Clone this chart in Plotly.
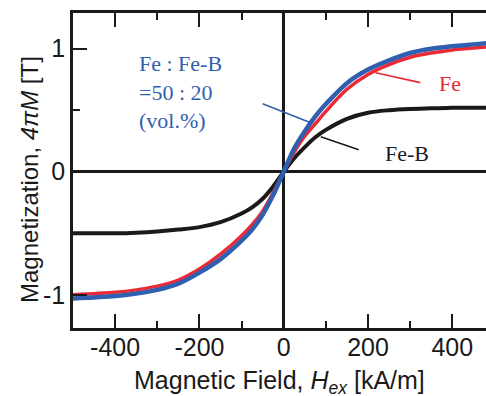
import plotly.graph_objects as go

# Magnetic field H_ex [kA/m]
field = [-500, -400, -350, -300, -250, -200, -150, -100, -75, -50, -25, 0,
         25, 50, 75, 100, 150, 200, 250, 300, 350, 400, 450, 500]

# Magnetization 4*pi*M [T]
mag_fe = [-1.00, -0.98, -0.96, -0.93, -0.88, -0.79, -0.67, -0.52, -0.43, -0.32, -0.17, 0.0,
          0.16, 0.29, 0.39, 0.49, 0.67, 0.79, 0.87, 0.93, 0.965, 0.99, 1.005, 1.02]
mag_mix = [-1.03, -1.01, -0.99, -0.96, -0.91, -0.82, -0.71, -0.56, -0.47, -0.35, -0.19, 0.0,
           0.19, 0.33, 0.45, 0.55, 0.72, 0.83, 0.905, 0.965, 1.0, 1.02, 1.035, 1.05]
mag_feb = [-0.50, -0.50, -0.495, -0.485, -0.47, -0.45, -0.41, -0.34, -0.29, -0.22, -0.12, 0.0,
           0.11, 0.20, 0.28, 0.34, 0.43, 0.48, 0.50, 0.51, 0.515, 0.52, 0.52, 0.52]

x_ticks = [-400, -200, 0, 200, 400]
y_ticks = [-1, 0, 1]

BLUE = "#2f5fae"
RED = "#ec2a36"
BLACK = "#1a1a1a"

fig = go.Figure()
fig.add_trace(go.Scatter(x=field, y=mag_feb, mode="lines",
                         line=dict(color=BLACK, width=4, shape="spline", smoothing=0.9),
                         showlegend=False, hoverinfo="skip"))
fig.add_trace(go.Scatter(x=field, y=mag_fe, mode="lines",
                         line=dict(color=RED, width=3.5, shape="spline", smoothing=0.9),
                         showlegend=False, hoverinfo="skip"))
fig.add_trace(go.Scatter(x=field, y=mag_mix, mode="lines",
                         line=dict(color=BLUE, width=4.5, shape="spline", smoothing=0.9),
                         showlegend=False, hoverinfo="skip"))

# leader lines for labels
fig.add_shape(type="line", x0=218, y0=0.805, x1=324, y1=0.724, xref="x", yref="y",
              line=dict(color=RED, width=1.6))
fig.add_shape(type="line", x0=88, y0=0.285, x1=178, y1=0.179, xref="x", yref="y",
              line=dict(color=BLACK, width=1.6))
fig.add_shape(type="line", x0=-50, y0=0.553, x1=64, y1=0.398, xref="x", yref="y",
              line=dict(color=BLUE, width=1.6))

serif = "Liberation Serif, Times New Roman, serif"
fig.add_annotation(x=395, y=0.715, text="Fe", showarrow=False, xref="x", yref="y",
                   font=dict(family=serif, size=22, color=RED))
fig.add_annotation(x=293, y=0.146, text="Fe-B", showarrow=False, xref="x", yref="y",
                   font=dict(family=serif, size=22, color=BLACK))
fig.add_annotation(x=-347, y=1.0, text="Fe : Fe-B<br>=50 : 20<br>(vol.%)", showarrow=False,
                   xref="x", yref="y", xanchor="left", yanchor="top", align="left",
                   font=dict(family=serif, size=22, color=BLUE))

sans = "Liberation Sans, Arial, sans-serif"
# axis titles
fig.add_annotation(x=0.5, y=-0.171, xref="paper", yref="paper", showarrow=False,
                   text="Magnetic Field, <i>H</i><sub><i>ex</i></sub> [kA/m]",
                   font=dict(family=sans, size=25, color=BLACK), yanchor="middle")
fig.add_annotation(x=-0.104, y=0.47, xref="paper", yref="paper", showarrow=False,
                   text="Magnetization, <i>4πM</i> [T]", textangle=-90,
                   font=dict(family=sans, size=24, color=BLACK), xanchor="center")

fig.update_layout(
    width=486, height=396,
    margin=dict(l=73, r=0, t=13, b=68),
    paper_bgcolor="white", plot_bgcolor="white",
    font=dict(family=sans, size=25, color=BLACK),
    xaxis=dict(range=[-500, 480], tickmode="array", tickvals=x_ticks,
               ticktext=[str(v) for v in x_ticks], automargin=False,
               ticks="inside", ticklen=14, tickwidth=2, tickcolor=BLACK,
               ticklabelstandoff=-5,
               minor=dict(ticks="inside", ticklen=7, tickwidth=2, tickcolor=BLACK, dtick=100,
                          showgrid=False),
               showline=True, linecolor=BLACK, linewidth=2.5, mirror="ticks",
               showgrid=False, zeroline=True, zerolinecolor=BLACK, zerolinewidth=2.5,
               tickfont=dict(size=25)),
    yaxis=dict(range=[-1.27, 1.29], tickmode="array", tickvals=y_ticks,
               ticktext=["-1", "0", "1"], automargin=False,
               ticks="inside", ticklen=14, tickwidth=2, tickcolor=BLACK,
               minor=dict(ticks="inside", ticklen=7, tickwidth=2, tickcolor=BLACK, dtick=0.5,
                          tick0=0, showgrid=False),
               showline=True, linecolor=BLACK, linewidth=2.5,
               showgrid=False, zeroline=True, zerolinecolor=BLACK, zerolinewidth=2.5,
               tickfont=dict(size=25)),
)

fig.write_html("out.html", config={"displayModeBar": False},
               post_script="document.body.style.margin='0';document.body.style.padding='0';"
                           "document.body.style.overflow='hidden';")
